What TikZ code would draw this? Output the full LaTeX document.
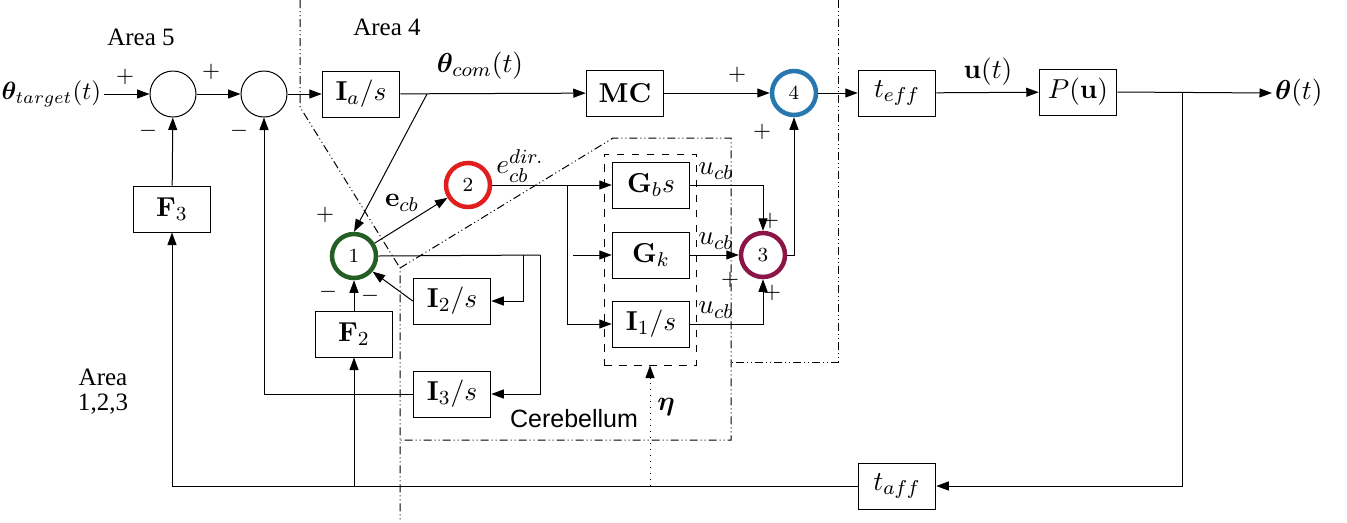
\documentclass[tikz,border=0pt]{standalone}
\usepackage{amsmath,bm}
\usepackage[no-math]{fontspec}
\newfontfamily\areafont{Liberation Serif}
\newfontfamily\cbfont{Liberation Sans}
\usepackage{tikz}
\usetikzlibrary{arrows.meta}
\usetikzlibrary{positioning}
\usetikzlibrary{calc}

\definecolor{cgreen}{RGB}{35,95,35}
\definecolor{cred}{RGB}{225,30,30}
\definecolor{cblue}{RGB}{40,120,175}
\definecolor{cmaroon}{RGB}{140,20,70}

\begin{document}
\begin{tikzpicture}[x=0.4pt,y=-0.4pt,
    every node/.style={font=\fontsize{11}{13}\selectfont},
    block/.style={draw, minimum width=31pt, minimum height=18.4pt, inner sep=0pt},
    sumnode/.style={draw, circle, minimum size=18.4pt, inner sep=0pt},
    ring/.style={draw, circle, line width=1.8pt, minimum size=17.6pt, inner sep=0pt, font=\footnotesize},
    arr/.style={-{Triangle[length=5pt,width=3.6pt]}},
    arealine/.style={dash pattern=on 3.2pt off 1.2pt on 0.4pt off 1.2pt on 0.4pt off 1.2pt},
    signlabel/.style={font=\small, inner sep=0pt},
    arealabel/.style={font=\normalsize\areafont, align=center}]
    \useasboundingbox (0,0) rectangle (1347,522);

    % area boundaries
    \draw[arealine] (300,0) -- (300,107) -- (400,268) -- (400,522);
    \draw[arealine] (400,268) -- (613,138) -- (731,138) -- (731,440) -- (400,440);
    \draw[arealine] (838,0) -- (838,362) -- (731,362);

    \node[arealabel] (a5) at (141,37) {Area 5};
    \node[arealabel] (a4) at (387,27) {Area 4};
    \node[arealabel] (a123) at (103,392) {Area\\[-2pt]1,2,3};
    \node[font=\normalsize\cbfont] (cb) at (574,419) {Cerebellum};

    % blocks
    \node[sumnode] (sumA) at (173,94) {};
    \node[sumnode] (sumB) at (264,94) {};
    \node[block] (ia) at (361,94) {$\mathbf{I}_a/s$};
    \node[block] (mc) at (625,93) {$\mathbf{MC}$};
    \node[ring, draw=cblue] (n4) at (794,93) {4};
    \node[block] (teff) at (897,93) {$t_{eff}$};
    \node[block] (plant) at (1078,92) {$P(\mathbf{u})$};
    \node[block] (taff) at (897,486) {$t_{aff}$};
    \node[block] (f3) at (172,209) {$\mathbf{F}_3$};
    \node[block] (f2) at (354,334) {$\mathbf{F}_2$};
    \node[ring, draw=cgreen] (n1) at (354,256) {1};
    \node[ring, draw=cred] (n2) at (468,185) {2};
    \node[block] (i2) at (452,301) {$\mathbf{I}_2/s$};
    \node[block] (i3) at (452,394) {$\mathbf{I}_3/s$};
    \node[block] (gb) at (651,185) {$\mathbf{G}_b s$};
    \node[block] (gk) at (651,255) {$\mathbf{G}_k$};
    \node[block] (i1) at (651,324) {$\mathbf{I}_1/s$};
    \node[ring, draw=cmaroon] (n3) at (763,255) {3};
    \node[draw, dashed, minimum width=36.8pt, minimum height=84.4pt, inner sep=0pt] (plast) at (650,259.5) {};

    % signals
    \node[anchor=east, inner sep=1pt, font=\fontsize{10}{12}\selectfont] (tin) at (104,94) {$\boldsymbol{\theta}_{target}(t)$};
    \node[anchor=west, inner sep=1pt] (tout) at (1272,93) {$\boldsymbol{\theta}(t)$};
    \node (tcom) at (480,66) {$\boldsymbol{\theta}_{com}(t)$};
    \node (ut) at (988,72) {$\mathbf{u}(t)$};
    \node (ecb) at (402,203) {$\mathbf{e}_{cb}$};
    \node[inner sep=1pt] (edir) at (520,166) {$e_{cb}^{dir.}$};
    \node (ucb1) at (716,171) {$u_{cb}$};
    \node (ucb2) at (716,241) {$u_{cb}$};
    \node (ucb3) at (716,310) {$u_{cb}$};
    \node (eta) at (666,407) {$\boldsymbol{\eta}$};

    % signs
    \node[signlabel] at (125,77) {$+$};
    \node[signlabel] at (148,131) {$-$};
    \node[signlabel] at (211,72) {$+$};
    \node[signlabel] at (239,131) {$-$};
    \node[signlabel] at (325,215) {$+$};
    \node[signlabel] at (328,292) {$-$};
    \node[signlabel] at (370,296) {$-$};
    \node[signlabel] at (737,75) {$+$};
    \node[signlabel] at (762,132) {$+$};
    \node[signlabel] at (770,221) {$+$};
    \node[signlabel] at (730,280) {$+$};
    \node[signlabel] at (772,293) {$+$};

    % branch points
    \coordinate (jia) at (427,94);
    \coordinate (jout) at (1182,92);
    \coordinate (jn2) at (567,185);
    \coordinate (gkin) at (573,255);
    \coordinate (jn1a) at (523,255);
    \coordinate (jn1b) at (540,255);

    % forward path
    \draw[arr] (tin.east) -- (sumA.west);
    \draw[arr] (sumA) -- (sumB);
    \draw[arr] (sumB) -- (ia);
    \draw[arr] (ia) -- (mc);
    \draw[arr] (mc) -- (n4);
    \draw[arr] (n4) -- (teff);
    \draw[arr] (teff) -- (plant);
    \draw[arr] (plant.east) -- (tout.west);

    % feedback
    \draw[arr] (jout) |- (taff.east);
    \draw[arr] (taff.west) -| (f3.south);
    \draw[arr] (f3) -- (sumA);
    \draw[arr] (f2.south |- taff) -- (f2.south);
    \draw[arr] (f2) -- (n1);
    \draw[arr, dotted] (plast.south |- taff) -- (plast.south);

    % cerebellum
    \draw[arr] (jia) -- (n1.north);
    \draw[arr] (n1) -- (n2);
    \draw[arr] (n2) -- (gb);
    \draw[arr] (jn2) |- (i1.west);
    \draw[arr] (gkin) -- (gk.west);
    \draw[arr] (gb.east) -| (n3.north);
    \draw[arr] (gk) -- (n3);
    \draw[arr] (i1.east) -| (n3.south);
    \draw[arr] (n3.east) -| (n4.south);
    \draw (n1.east) -- (jn1b);
    \draw[arr] (jn1a) |- (i2.east);
    \draw[arr] (jn1b) |- (i3.east);
    \draw[arr] (i2.west) -- (n1.-40);
    \draw[arr] (i3.west) -| (sumB.south);
\end{tikzpicture}
\end{document}
